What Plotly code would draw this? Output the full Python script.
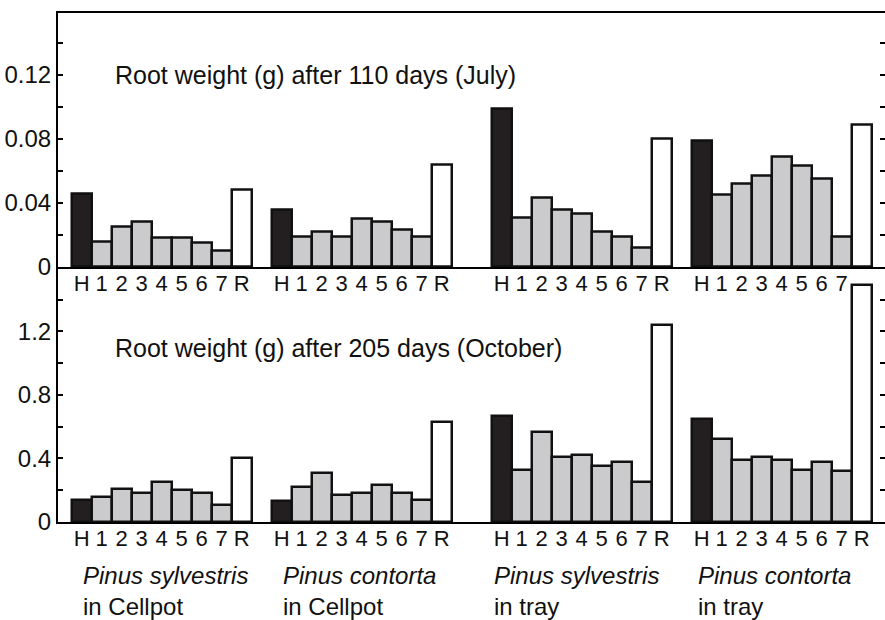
import plotly.graph_objects as go

# Treatment categories along each group of bars
categories = ["H", "1", "2", "3", "4", "5", "6", "7", "R"]
species = ["Pinus sylvestris", "Pinus contorta", "Pinus sylvestris", "Pinus contorta"]
containers = ["in Cellpot", "in Cellpot", "in tray", "in tray"]

# Root weight (g) after 110 days (July)
july_ps_cell = [0.046, 0.016, 0.025, 0.028, 0.018, 0.018, 0.015, 0.010, 0.048]
july_pc_cell = [0.036, 0.019, 0.022, 0.019, 0.030, 0.028, 0.023, 0.019, 0.064]
july_ps_tray = [0.099, 0.031, 0.043, 0.036, 0.033, 0.022, 0.019, 0.012, 0.080]
july_pc_tray = [0.079, 0.045, 0.052, 0.057, 0.069, 0.063, 0.055, 0.019, 0.089]

# Root weight (g) after 205 days (October)
oct_ps_cell = [0.14, 0.16, 0.21, 0.18, 0.25, 0.20, 0.18, 0.11, 0.40]
oct_pc_cell = [0.13, 0.22, 0.31, 0.17, 0.18, 0.23, 0.18, 0.14, 0.63]
oct_ps_tray = [0.67, 0.33, 0.57, 0.41, 0.42, 0.35, 0.38, 0.25, 1.24]
oct_pc_tray = [0.65, 0.52, 0.39, 0.41, 0.39, 0.33, 0.38, 0.32, 1.49]

july = [july_ps_cell, july_pc_cell, july_ps_tray, july_pc_tray]
october = [oct_ps_cell, oct_pc_cell, oct_ps_tray, oct_pc_tray]

# ---- layout helpers -------------------------------------------------------
W, H = 885, 620
FONT = "Liberation Sans, Arial, sans-serif"
DARK, GRAY, WHITE, EDGE = "#231f20", "#cbcbcd", "#ffffff", "#111111"


def py(pix):
    """pixel row from the top -> paper fraction"""
    return (H - pix) / H


group_start = [0, 10, 21, 31]          # slot index of the first bar in each group
xs, ticktext, colors = [], [], []
for g in range(4):
    for i, c in enumerate(categories):
        xs.append(group_start[g] + i)
        ticktext.append(c)
        colors.append(DARK if c == "H" else WHITE if c == "R" else GRAY)

# in the upper panel the last "R" label sits under the tall October bar
ticktext_top = ticktext[:-1] + [""]

x_range = [-1.185, 40.165]

fig = go.Figure()
fig.add_trace(go.Bar(
    x=xs, y=[v for grp in july for v in grp], width=1,
    marker=dict(color=colors, line=dict(color=EDGE, width=2.5)),
    xaxis="x", yaxis="y", showlegend=False, hoverinfo="x+y"))
fig.add_trace(go.Bar(
    x=xs, y=[v for grp in october for v in grp], width=1,
    marker=dict(color=colors, line=dict(color=EDGE, width=2.5)),
    xaxis="x2", yaxis="y2", showlegend=False, hoverinfo="x+y"))
# empty traces that carry the right-hand tick axes
fig.add_trace(go.Scatter(x=[], y=[], xaxis="x", yaxis="y3", showlegend=False))
fig.add_trace(go.Scatter(x=[], y=[], xaxis="x2", yaxis="y4", showlegend=False))

top_dom = [py(267), py(12.7)]
bot_dom = [py(522), py(267)]
top_rng = [0, 0.1589]
bot_rng = [0, 1.606]

xaxis_common = dict(
    range=x_range, domain=[0, 1], tickmode="array", tickvals=xs,
    ticks="", showgrid=False, zeroline=False, showline=True, linecolor="black",
    linewidth=2, tickfont=dict(family=FONT, size=22, color="#111"), automargin=False,
    ticklabelstandoff=-4)
yaxis_common = dict(
    showgrid=False, zeroline=False, showline=True, linecolor="black", linewidth=2,
    ticks="inside", ticklen=5, tickwidth=2, tickcolor="black", automargin=False,
    tickfont=dict(family=FONT, size=24, color="#111"), tickmode="array")

fig.update_layout(
    width=W, height=H, template="none",
    margin=dict(l=58, r=0, t=0, b=0, pad=0),
    paper_bgcolor="white", plot_bgcolor="rgba(0,0,0,0)",
    bargap=0, barmode="overlay", showlegend=False,
    xaxis=dict(xaxis_common, anchor="y", mirror=True, ticktext=ticktext_top),
    xaxis2=dict(xaxis_common, anchor="y2", ticktext=ticktext),
    yaxis=dict(yaxis_common, domain=top_dom, range=top_rng, anchor="x",
               tickvals=[0, 0.04, 0.08, 0.12], ticktext=["0", "0.04", "0.08", "0.12"],
               minor=dict(tickvals=[0.02, 0.06, 0.10, 0.14], ticks="inside",
                          ticklen=5, tickwidth=2, tickcolor="black")),
    yaxis2=dict(yaxis_common, domain=bot_dom, range=bot_rng, anchor="x2",
                tickvals=[0, 0.4, 0.8, 1.2], ticktext=["0", "0.4", "0.8", "1.2"],
                minor=dict(tickvals=[0.2, 0.6, 1.0, 1.4], ticks="inside",
                           ticklen=5, tickwidth=2, tickcolor="black")),
    yaxis3=dict(overlaying="y", side="right", range=top_rng, showline=False,
                showgrid=False, zeroline=False, ticks="inside", ticklen=5,
                tickwidth=2, tickcolor="black", showticklabels=False,
                tickmode="array", tickvals=[0.02, 0.04, 0.06, 0.08, 0.10, 0.12, 0.14]),
    yaxis4=dict(overlaying="y2", side="right", range=bot_rng, showline=False,
                showgrid=False, zeroline=False, ticks="inside", ticklen=5,
                tickwidth=2, tickcolor="black", showticklabels=False,
                tickmode="array", tickvals=[0.2, 0.4, 0.6, 0.8, 1.0, 1.2, 1.4]),
)

title_font = dict(family=FONT, size=25, color="#111")
fig.add_annotation(text="Root weight (g) after 110 days (July)", xref="paper", yref="paper",
                   x=(113 - 58) / 827, y=py(75), xanchor="left", yanchor="middle",
                   showarrow=False, font=title_font)
fig.add_annotation(text="Root weight (g) after 205 days (October)", xref="paper", yref="paper",
                   x=(113 - 58) / 827, y=py(348), xanchor="left", yanchor="middle",
                   showarrow=False, font=title_font)

label_px = [81, 281, 492, 696]
for g in range(4):
    fig.add_annotation(text=f"<i>{species[g]}</i><br>{containers[g]}",
                       xref="paper", yref="paper", x=(label_px[g] - 58) / 827, y=py(591),
                       xanchor="left", yanchor="middle", align="left", showarrow=False,
                       font=dict(family=FONT, size=24, color="#111"))

fig.write_html("out.html")
